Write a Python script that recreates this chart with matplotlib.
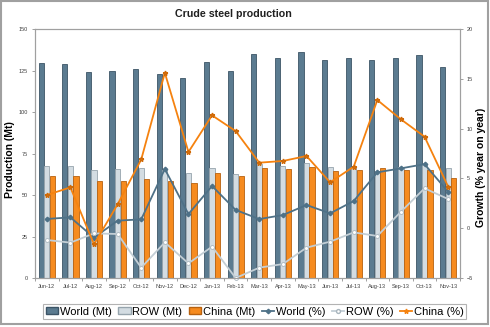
import numpy as np
import matplotlib
matplotlib.use('Agg')
import matplotlib.pyplot as plt
from matplotlib.patches import Rectangle, Patch
from matplotlib.lines import Line2D

plt.rcParams['font.family'] = ['Liberation Sans', 'DejaVu Sans']

months = ['Jun-12', 'Jul-12', 'Aug-12', 'Sep-12', 'Oct-12', 'Nov-12', 'Dec-12', 'Jan-13', 'Feb-13',
          'Mar-13', 'Apr-13', 'May-13', 'Jun-13', 'Jul-13', 'Aug-13', 'Sep-13', 'Oct-13', 'Nov-13']

# production, Mt
world_mt = [129.3, 128.9, 124.1, 124.9, 125.9, 123.1, 120.5, 130.1, 124.5,
            134.9, 132.3, 136.3, 131.3, 132.7, 131.3, 132.3, 134.1, 127.3]
row_mt = [67.5, 67.3, 65.3, 65.7, 66.1, 65.0, 63.1, 66.1, 62.4,
          68.7, 67.5, 69.1, 66.7, 67.1, 64.5, 66.7, 68.5, 66.1]
china_mt = [61.6, 61.4, 58.4, 58.6, 59.4, 58.4, 57.4, 63.4, 61.6,
            66.1, 65.5, 66.7, 64.5, 65.1, 66.1, 65.1, 65.1, 60.5]

# growth, % year on year
world_pct = [0.93, 1.09, -0.95, 0.76, 0.89, 5.94, 1.42, 4.24, 1.83,
             0.92, 1.32, 2.33, 1.49, 2.73, 5.61, 6.01, 6.43, 3.65]
row_pct = [-1.18, -1.45, -0.52, -0.58, -3.96, -1.42, -3.53, -1.85, -5.0,
           -3.96, -3.6, -1.95, -1.35, -0.42, -0.78, 1.66, 4.0, 2.93]
china_pct = [3.33, 4.1, -1.62, 2.4, 6.9, 15.6, 7.65, 11.33, 9.75,
             6.58, 6.75, 7.25, 4.61, 6.18, 12.87, 10.93, 9.19, 4.17]

c_world, c_world_e = '#5b7b90', '#3c5466'
c_row, c_row_e = '#d3dce2', '#96a4ad'
c_china, c_china_e = '#f68b1f', '#b8610f'
l_world, l_row, l_china = '#4e7187', '#c3ced5', '#f5820f'

x = np.arange(len(months))
w = 0.22

fig = plt.figure(figsize=(4.9, 3.27), dpi=100)
ax = fig.add_axes([0.0714, 0.1498, 0.8673, 0.7615])

ax.bar(x - 0.235, world_mt, w, color=c_world, edgecolor=c_world_e, linewidth=0.6, label='World (Mt)')
ax.bar(x, row_mt, w, color=c_row, edgecolor=c_row_e, linewidth=0.6, label='ROW (Mt)')
ax.bar(x + 0.235, china_mt, w, color=c_china, edgecolor=c_china_e, linewidth=0.6, label='China (Mt)')

ax.set_xlim(-0.5, len(months) - 0.5)
ax.set_ylim(0, 150)
ax.set_yticks(range(0, 151, 25))
ax.set_xticks(x)
ax.set_xticklabels(months)
ax.set_xticks(np.arange(-0.5, len(months), 1), minor=True)
ax.tick_params(axis='x', which='major', length=0, pad=4, labelsize=4, labelcolor='#404040')
ax.tick_params(axis='x', which='minor', length=2.5, color='#909090', width=0.6)
ax.tick_params(axis='y', length=2, color='#909090', width=0.6, labelsize=4, labelcolor='#404040', pad=3)
ax.set_ylabel('Production (Mt)', fontsize=7.5, fontweight='bold')
ax.yaxis.set_label_coords(-0.048, 0.474)

ax2 = ax.twinx()
ax2.plot(x, world_pct, color=l_world, lw=1.3, marker='D', ms=2.3, mfc=l_world, mec=l_world,
         label='World (%)', clip_on=False)
ax2.plot(x, row_pct, color=l_row, lw=1.3, marker='o', ms=2.8, mfc='white', mec='#a9b6be', mew=0.6,
         label='ROW (%)', clip_on=False)
ax2.plot(x, china_pct, color=l_china, lw=1.3, marker='*', ms=3.5, mfc='#e87a10', mec='#d06a08',
         label='China (%)', clip_on=False)
ax2.set_ylim(-5, 20)
ax2.set_yticks(range(-5, 21, 5))
ax2.tick_params(axis='y', length=2, color='#909090', width=0.6, labelsize=4, labelcolor='#404040', pad=3)
ax2.set_ylabel('Growth (% year on year)', fontsize=7.5, fontweight='bold', rotation=90)
ax2.yaxis.set_label_coords(1.038, 0.446)

for a in (ax, ax2):
    for s in a.spines.values():
        s.set_color('#a0a0a0')
        s.set_linewidth(0.8)

fig.text(0.477, 0.957, 'Crude steel production', ha='center', va='center', fontsize=7.7, fontweight='bold',
         color='#202020')

handles = [Patch(facecolor=c_world, edgecolor=c_world_e, label='World (Mt)'),
           Patch(facecolor=c_row, edgecolor=c_row_e, label='ROW (Mt)'),
           Patch(facecolor=c_china, edgecolor=c_china_e, label='China (Mt)'),
           Line2D([], [], color=l_world, lw=1.3, marker='D', ms=2.3, label='World (%)'),
           Line2D([], [], color=l_row, lw=1.3, marker='o', ms=2.8, mfc='white', mec='#a9b6be', label='ROW (%)'),
           Line2D([], [], color=l_china, lw=1.3, marker='*', ms=3.5, label='China (%)')]
leg = fig.legend(handles=handles, loc='center', bbox_to_anchor=(0.52, 0.047), ncol=6, fontsize=8,
                 frameon=True, fancybox=False, handlelength=1.1, handleheight=0.6, handletextpad=0.15,
                 columnspacing=0.6, borderpad=0.25)
leg.get_frame().set_edgecolor('#a0a0a0')
leg.get_frame().set_linewidth(0.8)

fig.patches.append(Rectangle((1 / 490, 3 / 327), 487 / 490, 323 / 327, transform=fig.transFigure,
                             fill=False, edgecolor='#a0a0a0', linewidth=1.5))

fig.savefig('out.png', dpi=100)
